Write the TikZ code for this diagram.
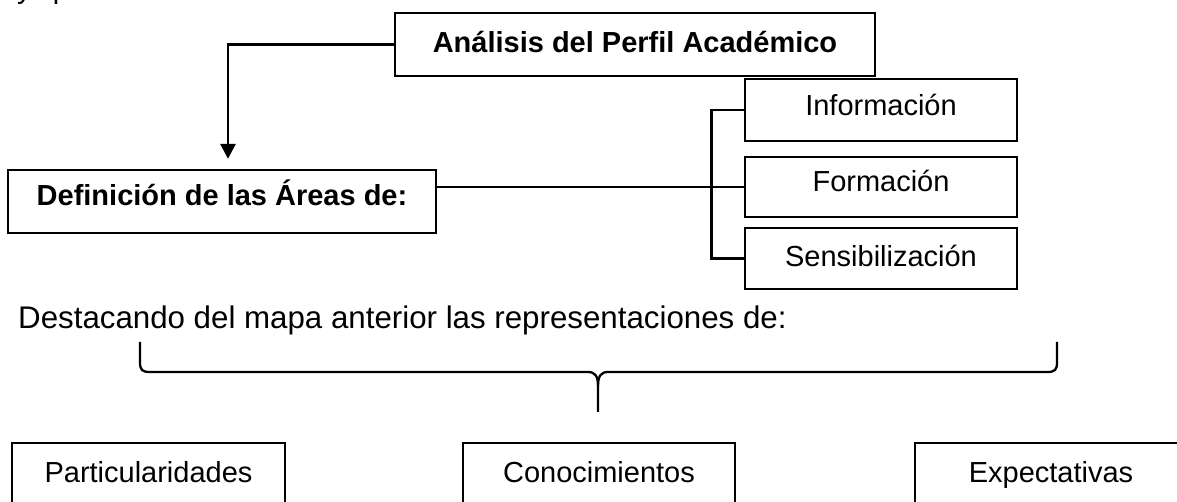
\documentclass[tikz,border=0pt]{standalone}
\usepackage{fontspec}
\setmainfont{Liberation Sans}
\usetikzlibrary{arrows.meta,calc}

\begin{document}
\begin{tikzpicture}[x=0.02cm,y=-0.02cm,
  caja/.style={draw,line width=1.3pt,inner sep=0pt,text height=11.8pt,text depth=2.5pt,
    font=\fontsize{16.5}{19.8}\selectfont},
  negrita/.style={font=\fontsize{16.5}{19.8}\selectfont\bfseries},
  enlace/.style={line width=1.6pt}]
 % \draw[thin,gray!40,step=50] (0,0) grid (1177,502);
  \useasboundingbox (0,0) rectangle (1177,502);
  \node[anchor=base west,font=\fontsize{16.5}{19.8}\selectfont] (fragmento) at (11,-1) {y\hspace{12pt}p};
  \node[caja,negrita,minimum width=9.6cm,minimum height=1.26cm] (analisis) at (635,44.5) {Análisis del Perfil Académico};
  \node[caja,negrita,text depth=7.4pt,minimum width=8.56cm,minimum height=1.26cm] (definicion) at (222,201.5) {Definición de las Áreas de:};
  \node[caja,text depth=5.7pt,minimum width=5.44cm,minimum height=1.24cm] (informacion) at (881,110) {Información};
  \node[caja,text depth=6.2pt,minimum width=5.44cm,minimum height=1.2cm] (formacion) at (881,187) {Formación};
  \node[caja,minimum width=5.44cm,minimum height=1.22cm] (sensibilizacion) at (881,258.5) {Sensibilización};

  \draw[enlace,-{Triangle[width=8.5pt,length=8.5pt]},shorten >=5.7pt] (analisis.west) -| ($(definicion.north)+(6,0)$);
  \draw[enlace] (definicion.east |- formacion.west) -- (formacion.west);
  \draw[enlace] (informacion.west) -- ++(-32,0) |- (sensibilizacion.west);

  \node[anchor=base west,font=\fontsize{17.8}{21.4}\selectfont] (destacando) at (12,329) {Destacando del mapa anterior las representaciones de:};
  % llave
  \draw[line width=1.3pt] (140,342) -- (140,362) .. controls (140,370) and (142,372) .. (150,372)
    -- (588,372) .. controls (595,372) and (598,376) .. (598,386) -- (598,412);
  \draw[line width=1.3pt] (1057,342) -- (1057,362) .. controls (1057,370) and (1055,372) .. (1047,372)
    -- (608,372) .. controls (601,372) and (598,376) .. (598,386);

  \node[caja,line width=1.1pt,minimum width=5.46cm,minimum height=1.26cm] (particularidades) at (148.5,474.5) {Particularidades};
  \node[caja,line width=1.1pt,minimum width=5.44cm,minimum height=1.26cm] (conocimientos) at (599,474.5) {Conocimientos};
  \node[caja,line width=1.1pt,minimum width=5.44cm,minimum height=1.26cm] (expectativas) at (1051,474.5) {Expectativas};
\end{tikzpicture}
\end{document}
